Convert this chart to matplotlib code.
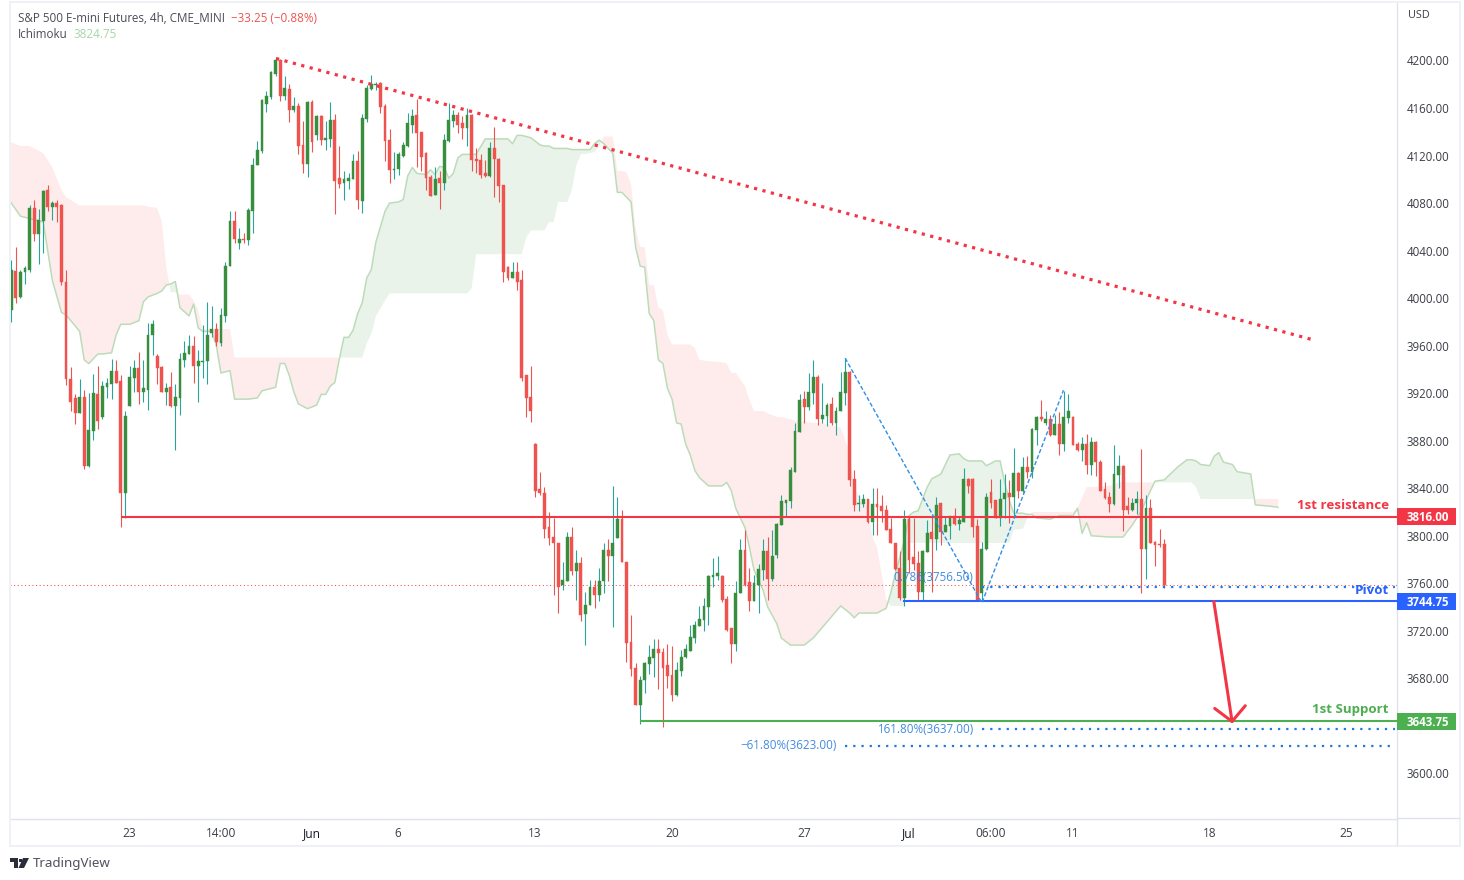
import matplotlib
matplotlib.use("Agg")
import matplotlib.pyplot as plt
from matplotlib.patches import Rectangle, Polygon
from matplotlib.transforms import blended_transform_factory

opens = [3990,4023,4001,4022,4024,4076,4054,4065,4091,4077,
4080,4078,4014,3932,3916,3903,3917,3859,3888,3919,
3900,3925,3928,3939,3930,3836,3909,3933,3941,3921,
3923,3969,3951,3942,3921,3925,3909,3916,3948,3953,
3960,3943,3946,3947,3971,3974,3962,3985,4027,4065,
4046,4050,4049,4073,4112,4124,4163,4169,4189,4200,
4170,4176,4158,4162,4129,4113,4165,4137,4153,4133,
4134,4150,4101,4097,4099,4100,4115,4082,4151,4176,
4179.5,4181,4162,4133,4108,4109,4120,4128,4146,4154,
4140,4122,4102,4087,4101,4097,4132,4149,4154,4147,
4143,4154,4117,4116,4105,4103,4126,4117,4095,4026,
4017,4022,4015,3935,3917,3877,3839,3836,3807,3799,
3794,3759,3762,3799,3770,3777,3734,3742,3757,3750,
3762,3788,3783,3798,3814,3778,3711,3689,3658,3679,
3692,3697,3705,3702,3691,3683,3666,3686,3698,3703,
3714,3724,3729,3740,3765,3766,3766,3747,3722,3709,
3752,3788,3761,3745,3759,3771,3787,3764,3784,3809,
3828,3829,3854,3887,3915,3908,3920,3934,3898,3901,
3911,3895,3905,3920,3938,3848,3827,3827,3831,3812,
3827,3825,3822,3806,3794,3773,3748,3814,3782,3777,
3753,3786,3803,3797,3828,3803,3808,3817,3810,3812,
3848,3848,3808,3752,3789,3837,3830,3815,3831,3836,
3833,3853,3838,3858,3854,3889,3900,3895,3898,3885,
3894,3877,3899,3900,3877,3872,3877,3860,3879,3862,
3839,3833,3827,3851,3859,3825,3822,3828,3831,3789,
3823,3795,3793,3793]

closes = [4024,4000,4022,4025,4076,4054,4066,4090,4077,4080,
4077,4014,3932,3913,3903,3917,3859,3889,3920,3897,
3926,3929,3939,3929,3836,3901,3934,3941,3921,3924,
3969,3978,3941,3921,3924,3909,3917,3949,3954,3960,
3943,3947,3947,3969,3974,3963,3986,4027,4065,4050,
4050,4049,4074,4112,4125,4167,4170,4190,4200,4170,
4177,4158,4162,4128,4113,4165,4131,4153,4133,4135,
4150,4099,4096,4100,4101,4115,4083,4152,4177,4180,
4180,4161,4132,4108,4109,4121,4129,4147,4153,4139,
4119,4101,4086,4100,4097,4133,4150,4154,4146,4143,
4154,4116,4115,4104,4103,4126,4117,4094,4022,4017,
4022,4014,3933,3916,3905,3838,3836,3806,3798,3794,
3757,3763,3799,3770,3777,3733,3742,3757,3750,3762,
3788,3783,3794,3814,3778,3710,3688,3658,3679,3693,
3698,3705,3701,3689,3682,3666,3687,3698,3705,3715,
3725,3730,3741,3766,3767,3769,3746,3721,3709,3752,
3788,3759,3745,3760,3772,3787,3764,3783,3810,3829,
3830,3855,3888,3914,3908,3921,3934,3898,3902,3910,
3895,3905,3921,3938,3847,3826,3828,3831,3812,3827,
3824,3821,3805,3794,3772,3748,3814,3780,3776,3753,
3787,3802,3797,3826,3803,3809,3817,3810,3813,3848,
3842,3807,3746,3789,3833,3828,3815,3831,3836,3833,
3853,3838,3858,3854,3890,3900,3898,3898,3885,3894,
3877,3900,3905,3876,3872,3877,3860,3879,3862,3838,
3832,3827,3852,3859,3822,3822,3828,3831,3789,3823,
3794,3792,3792,3759]

highs = [4032,4043,4024,4027,4078,4083,4075,4091,4095,4082,
4083,4079,4024,3942,3919,3932,3923,3920,3936,3943,
3930,3933,3949,3948,3935,3905,3943,3948,3955,3948,
3979,3982,3953,3943,3929,3938,3928,3954,3964,3969,
3968,3956,3977,3997,3993,3979,3992,4030,4073,4073,
4059,4055,4076,4118,4132,4168,4174,4191,4203,4201,
4187,4180,4169,4164,4149,4166,4167,4154,4154,4149,
4165,4155,4128,4107,4105,4121,4124,4155,4179,4188,
4181.5,4182,4163,4142,4123,4123,4131,4156,4159,4168,
4140,4123,4104,4110,4107,4138,4164,4158,4157,4153,
4160,4155,4126,4121,4116,4131,4144,4118,4095,4027,
4030,4030,4024,3935,3943,3878,3854,3841,3820,3815,
3794,3778,3803,3807,3788,3782,3753,3763,3763,3773,
3794,3797,3842,3833,3822,3778,3733,3693,3682,3694,
3708,3713,3713,3706,3709,3707,3694,3704,3709,3725,
3728,3741,3748,3767,3781,3783,3767,3749,3722,3762,
3797,3805,3773,3767,3776,3797,3799,3805,3811,3834,
3830,3858,3895,3919,3922,3937,3948,3935,3929,3912,
3917,3908,3938,3950,3939,3855,3834,3835,3831,3840,
3840,3834,3826,3815,3794,3787,3822,3817,3815,3787,
3788,3813,3816,3833,3828,3817,3817,3823,3817,3857,
3849,3849,3814,3795,3836,3848,3830,3848,3852,3847,
3874,3854,3866,3867,3891,3901,3914,3905,3902,3902,
3904,3922,3919,3901,3879,3883,3886,3883,3880,3864,
3845,3837,3876,3868,3860,3833,3832,3838,3873,3834,
3831,3796,3806,3797]

lows = [3980,3996,4000,4012,4022,4048,4029,4038,4073,4066,
4064,4011,3927,3905,3894,3903,3856,3858,3881,3890,
3898,3916,3915,3929,3807,3815,3909,3921,3911,3913,
3906,3952,3928,3921,3910,3908,3872,3902,3942,3953,
3929,3913,3933,3928,3967,3960,3960,3980,4027,4046,
4041,4046,4045,4055,4112,4122,4157,4168,4187,4166,
4167,4148,4157,4121,4105,4102,4123,4133,4129,4125,
4127,4071,4093,4083,4092,4100,4075,4072,4148,4175,
4175,4156,4115,4097,4100,4104,4119,4127,4139,4110,
4107,4091,4086,4087,4075,4091,4131,4144,4139,4134,
4128,4107,4105,4101,4102,4102,4085,4081,4014,4015,
4017,4007,3930,3900,3896,3833,3834,3798,3792,3750,
3735,3754,3762,3767,3746,3728,3708,3742,3739,3745,
3752,3762,3723,3798,3778,3694,3682,3658,3642,3668,
3684,3681,3671,3639,3672,3661,3665,3682,3697,3703,
3710,3724,3720,3725,3757,3763,3744,3720,3693,3703,
3752,3758,3737,3745,3735,3763,3746,3762,3781,3809,
3816,3823,3854,3887,3895,3906,3911,3893,3895,3892,
3893,3885,3905,3910,3842,3821,3821,3824,3811,3801,
3801,3812,3805,3794,3771,3746,3741,3769,3771,3746,
3745,3786,3753,3788,3792,3803,3797,3809,3805,3812,
3836,3799,3746,3746,3788,3823,3815,3808,3815,3811,
3816,3832,3837,3849,3849,3876,3897,3893,3884,3885,
3868,3871,3895,3876,3871,3863,3852,3851,3850,3838,
3831,3820,3826,3840,3804,3818,3821,3818,3752,3764,
3794,3775,3791,3756]

cloud_bar = [-1,0,2,4,7,9,11,12,15,16,17,19,20,22,23,24,26,28,29,30,
32,33,34,35,36,37,39,40,41,42,44,45,46,48,49,52,54,55,58,59,
60,61,62,63,65,67,68,69,70,71,72,73,74,75,76,77,78,79,80,82,
83,85,86,87,88,89,91,92,93,94,95,96,97,98,99,100,101,102,104,109,
110,111,112,113,114,115,116,117,118,119,120,122,123,124,125,127,128,129,130,131,
132,133,134,135,136,137,138,139,140,141,142,143,144,145,146,147,148,149,150,151,
153,156,157,158,159,161,162,163,165,166,168,169,171,172,174,176,178,182,184,185,
186,188,189,190,192,193,194,196,197,198,199,201,202,204,206,208,209,210,213,214,
216,217,218,219,220,222,223,224,225,228,230,233,234,235,236,237,241,243,244,246,
248,250,251,253,256,258,259,260,261,263,264,265,266,268,269,272,273,276,278]

span_a = [4084,4080,4069,4067,4064,4015,3988,3986,3972,3948,3945,3953,3953,3954,3969,3978,3978,3981,3997,4001,
4004,4006,4011,4012,4014,3992,3985,3995,3975,3972,3972,3960,3937,3939,3915,3915,3916,3922,3925,3945,
3945,3935,3921,3911,3907,3910,3919,3919,3926,3929,3949,3967,3967,3973,3987,3996,4017,4024,4047,4073,
4080,4081,4083,4103,4110,4105,4104,4108,4104,4111,4110,4101,4105,4118,4121,4121,4121,4121,4134,4134,
4130,4137,4137,4136,4135,4132,4129,4128,4128,4126,4126,4126,4125,4125,4125,4125,4130,4133,4130,4126,
4122,4089,4089,4085,4081,4043,4027,4026,3987,3981,3948,3945,3924,3915,3895,3894,3877,3868,3855,3849,
3842,3842,3845,3838,3823,3807,3790,3771,3754,3740,3726,3714,3708,3708,3708,3714,3723,3741,3735,3731,
3735,3735,3735,3735,3739,3752,3768,3796,3817,3820,3821,3841,3848,3852,3868,3869,3865,3863,3863,3859,
3863,3863,3845,3830,3819,3819,3818,3818,3815,3814,3817,3817,3823,3802,3811,3800,3799,3799,3799,3809,
3821,3838,3846,3847,3858,3864,3864,3863,3860,3859,3867,3870,3862,3860,3854,3852,3826,3825,3824]

span_b = [4134,4131,4128,4128,4122,4110,4091,4085,4078,4078,4078,4078,4078,4078,4078,4078,4078,4078,4078,4077,
4076,4065,4026,4005,4005,4003,4003,3998,3990,3974,3974,3974,3974,3974,3950,3950,3950,3950,3950,3950,
3950,3950,3950,3950,3950,3950,3950,3950,3950,3950,3950,3950,3950,3950,3950,3950,3962,3970,3985,3998,
4004,4004,4004,4004,4004,4004,4004,4004,4004,4004,4004,4004,4004,4004,4004,4004,4008,4037,4037,4037,
4037,4037,4037,4051,4057,4057,4057,4057,4064,4064,4081,4081,4091,4112,4121,4122,4123,4128,4136,4136,
4136,4107,4107,4106,4096,4059,4043,4043,4011,4011,3992,3990,3969,3961,3961,3961,3961,3961,3958,3948,
3947,3946,3945,3937,3937,3926,3914,3905,3905,3903,3900,3900,3898,3897,3896,3895,3895,3891,3870,3841,
3834,3823,3799,3790,3746,3741,3741,3741,3794,3794,3794,3794,3794,3794,3794,3794,3794,3794,3794,3794,
3794,3794,3794,3794,3805,3806,3815,3820,3820,3820,3820,3820,3824,3832,3841,3841,3842,3845,3845,3845,
3845,3845,3845,3845,3845,3845,3845,3841,3831,3831,3831,3831,3831,3831,3831,3831,3831,3831,3831]

trend_bar = [58.1, 285.4]
trend_price = [4201.7, 3965.2]
zigzag_bar = [183.0, 213.0, 230.9]
zigzag_price = [3949.5, 3743.5, 3922.5]
arrow_bar = [263.9, 267.9]
arrow_price = [3744.75, 3643.75]
head_bar = [264.1, 267.9, 270.8]
head_price = [3654.7, 3643.75, 3657.0]

levels = [3816.00, 3744.75, 3643.75]
level_start = [24.0, 195.7, 138.0]
level_colors = ["#f23645", "#2962ff", "#4caf50"]
level_names = ["1st resistance", "Pivot", "1st Support"]
level_name_y = [505, 590, 709]
fib_values = [3756.50, 3637.00, 3623.00]
fib_start = [213.0, 213.0, 183.0]
fib_labels = ["0.786(3756.50)", "161.80%(3637.00)", "−61.80%(3623.00)"]
fib_text_bar = [211.0, 211.3, 181.2]
fib_text_price = [3765.0, 3637.0, 3623.5]

ytick_values = [4200,4160,4120,4080,4040,4000,3960,3920,3880,3840,3800,3760,3720,3680,3600]
xtick_bars = [25.83, 46.0, 66.0, 84.8, 114.9, 145.0, 174.0, 197.0, 215.0, 233.0, 263.0, 293.0]
xtick_labels = ["23", "14:00", "Jun", "6", "13", "20", "27", "Jul", "06:00", "11", "18", "25"]

W, H = 1464, 880
plt.rcParams["font.family"] = "Open Sans"
fig = plt.figure(figsize=(W / 100, H / 100), dpi=100, facecolor="white")
ax = fig.add_axes([10 / W, 1 - 818.5 / H, 1387 / W, 816 / H])
ax.set_xlim(-0.29, 304.1)
ax.set_ylim(3562.1, 4248.8)
for s in ("top", "left"):
    ax.spines[s].set_visible(False)
for s in ("right", "bottom"):
    ax.spines[s].set_color("#e0e3eb")
    ax.spines[s].set_linewidth(1.0)
ax.yaxis.tick_right()
ax.set_yticks(ytick_values, [f"{v:.2f}" for v in ytick_values])
ax.set_xticks(xtick_bars, xtick_labels)
ax.tick_params(axis="y", length=0, pad=7, labelsize=8.3, labelcolor="#3c3f46")
ax.tick_params(axis="x", length=0, pad=6, labelsize=8.6, labelcolor="#3c3f46")
for lab in ax.get_xticklabels():
    if lab.get_text() in ("Jun", "Jul"):
        lab.set_color("#131722")

# Ichimoku cloud
ax.fill_between(cloud_bar, span_a, span_b, where=[a >= b for a, b in zip(span_a, span_b)],
                interpolate=True, color="#e9f3ea", lw=0, zorder=1)
ax.fill_between(cloud_bar, span_a, span_b, where=[a <= b for a, b in zip(span_a, span_b)],
                interpolate=True, color="#fdeceb", lw=0, zorder=1)
ax.plot(cloud_bar, span_a, color="#bcdcb9", lw=1.1, zorder=2)

# Last price line
ax.axhline(closes[-1], color="#ef5350", lw=0.75, ls=(0, (1, 2.5)), zorder=2)

# Candles
bars = list(range(len(opens)))
up = [c >= o for o, c in zip(opens, closes)]
wick_col = ["#26a69a" if u else "#ef5350" for u in up]
body_col = ["#388e3c" if u else "#ef5350" for u in up]
ax.vlines(bars, lows, highs, colors=wick_col, lw=0.8, zorder=3)
ax.bar(bars, [c - o for o, c in zip(opens, closes)], bottom=opens, width=0.62,
       color=body_col, edgecolor=body_col, lw=0.3, zorder=4)

# Levels
for v, st, col, name, ty in zip(levels, level_start, level_colors, level_names, level_name_y):
    ax.plot([st, 304.1], [v, v], color=col, lw=1.5, zorder=5, solid_capstyle="butt")
    fig.text(1389 / W, 1 - ty / H, name, color=col, fontsize=9.6, fontweight="bold",
             ha="right", va="center", zorder=8)

# Fib dotted levels
for v, st, lab, tb, tp in zip(fib_values, fib_start, fib_labels, fib_text_bar, fib_text_price):
    ax.plot([st, 303.6], [v, v], color="#1e78e0", lw=1.6, ls=(0, (1, 2.7)), zorder=5)
    ax.text(tb, tp, lab, color="#2f7fd8", fontsize=8.4, ha="right", va="center", zorder=6, alpha=0.9)

# Zigzag
ax.plot(zigzag_bar, zigzag_price, color="#2f8fe6", lw=1.0, ls=(0, (3, 1.6)), zorder=5)

# Trend line
ax.plot(trend_bar, trend_price, color="#f23645", lw=2.3, ls=(0, (1, 1.72)), zorder=6)

# Arrow
ax.plot(arrow_bar, arrow_price, color="#f23645", lw=2.2, zorder=7, solid_capstyle="round")
ax.plot(head_bar, head_price, color="#f23645", lw=2.2, zorder=7, solid_capstyle="round")

# Price tags
tr = blended_transform_factory(ax.transAxes, ax.transData)
for v, col in zip(levels, level_colors):
    ax.add_patch(Rectangle((1.0, v - 7.2), 59 / 1387, 14.4, transform=tr, facecolor=col,
                           edgecolor="none", clip_on=False, zorder=9))
    ax.text(1.0 + 10 / 1387, v - 0.5, f"{v:.2f}", transform=tr, color="white", fontsize=8.3,
            fontweight="bold", va="center", ha="left", zorder=10, clip_on=False)

# Frame
fx = lambda p: p / W
fy = lambda p: 1 - p / H
for (x0, y0, x1, y1) in [(9, 1, 1461, 3), (9, 845, 1461, 847), (9, 1, 11, 847), (1459, 1, 1461, 847)]:
    fig.add_artist(Rectangle((fx(x0), fy(y1)), (x1 - x0) / W, (y1 - y0) / H, transform=fig.transFigure,
                             facecolor="#eff1f6", edgecolor="none"))
fig.add_artist(plt.Line2D([fx(1397)] * 2, [fy(818), fy(845)], color="#e0e3eb", lw=1.0))
fig.add_artist(plt.Line2D([fx(1397), fx(1459)], [fy(818)] * 2, color="#e0e3eb", lw=1.0))

# Header text
fig.text(fx(18), fy(18), "S&P 500 E-mini Futures, 4h, CME_MINI", color="#4a4d55", fontsize=8.35, va="center")
fig.text(fx(231), fy(18), "−33.25 (−0.88%)", color="#ef5350", fontsize=8.35, va="center")
fig.text(fx(18), fy(34), "Ichimoku", color="#4a4d55", fontsize=8.35, va="center")
fig.text(fx(73), fy(34), "3824.75", color="#a5d6a7", fontsize=8.35, va="center")
fig.text(fx(1408), fy(16), "USD", color="#3c3f46", fontsize=7.8, va="center")

# Logo
logo_col = "#2a2e39"
fig.add_artist(Polygon([(fx(10), fy(858)), (fx(18), fy(858)), (fx(18), fy(868)), (fx(14), fy(868)),
                        (fx(14), fy(862)), (fx(10), fy(862))], closed=True, transform=fig.transFigure,
                       facecolor=logo_col, edgecolor="none"))
fig.add_artist(Polygon([(fx(23), fy(858)), (fx(29), fy(858)), (fx(24), fy(868)), (fx(18.5), fy(868))],
                       closed=True, transform=fig.transFigure, facecolor=logo_col, edgecolor="none"))
fig.add_artist(Rectangle((fx(19), fy(861.5)), 3 / W, 3 / H, transform=fig.transFigure,
                         facecolor=logo_col, edgecolor="none"))
fig.text(fx(33), fy(863), "TradingView", color="#50535e", fontsize=9.6, va="center", fontfamily="Noto Sans")

fig.savefig("out.png", dpi=100, facecolor="white")
